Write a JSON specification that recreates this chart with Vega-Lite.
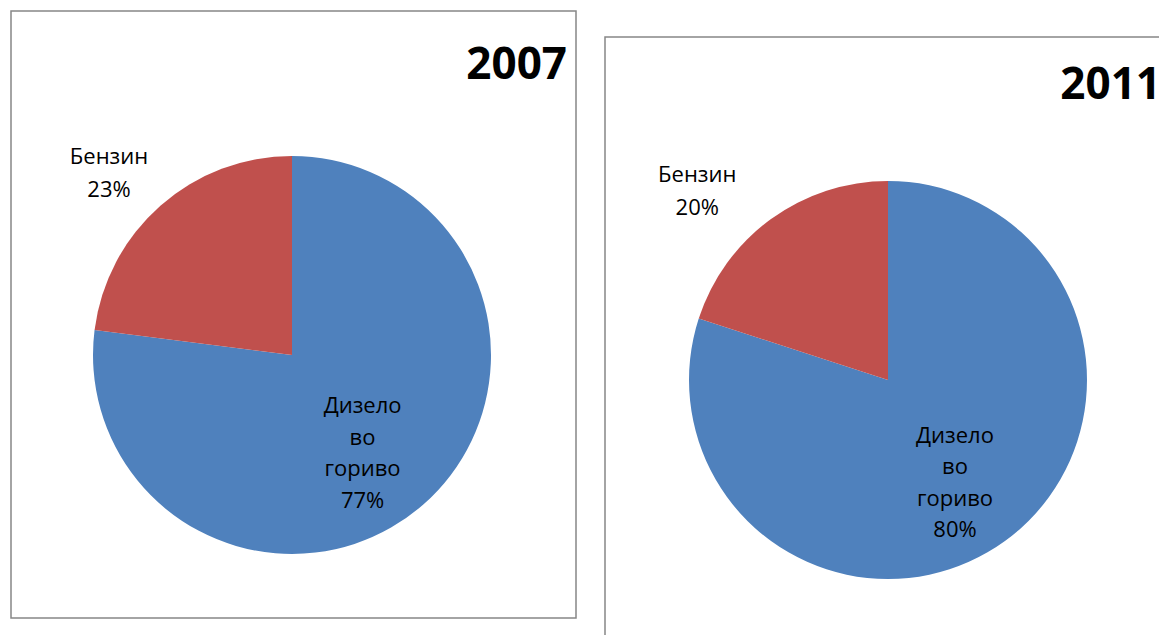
{
  "$schema": "https://vega.github.io/schema/vega-lite/v6.json",
  "padding": {"left": 10, "top": 10, "right": 0, "bottom": 0},
  "background": "white",
  "spacing": 27,
  "config": {
    "view": {"stroke": "#878787", "strokeWidth": 1.5},
    "text": {"font": "Open Sans", "color": "black"}
  },
  "datasets": {
    "fuel": [
      {"year": "2007", "fuel": "Дизелово гориво", "value": 77, "label": "Дизело\nво\nгориво\n77%"},
      {"year": "2007", "fuel": "Бензин", "value": 23, "label": "Бензин\n23%"},
      {"year": "2011", "fuel": "Дизелово гориво", "value": 80, "label": "Дизело\nво\nгориво\n80%"},
      {"year": "2011", "fuel": "Бензин", "value": 20, "label": "Бензин\n20%"}
    ]
  },
  "hconcat": [
    {
      "width": 565,
      "height": 607,
      "view": {"stroke": "#878787", "strokeWidth": 1.5},
      "data": {"name": "fuel"},
      "transform": [{"filter": "datum.year === '2007'"}],
      "title": {"text": "2007", "anchor": "end", "frame": "group", "offset": -77, "dx": -9, "fontSize": 44, "fontWeight": "bold", "font": "Open Sans", "color": "black"},
      "layer": [
        {
          "mark": {"type": "arc", "radius": 199, "xOffset": -1.5, "yOffset": 40.5},
          "encoding": {
            "theta": {"field": "value", "type": "quantitative", "stack": true},
            "order": {"field": "fuel", "sort": "descending"},
            "color": {"field": "fuel", "type": "nominal", "scale": {"domain": ["Дизелово гориво", "Бензин"], "range": ["#4F81BD", "#C0504D"]}, "legend": null}
          }
        },
        {
          "mark": {"type": "text", "radius": 120, "thetaOffset": 0.094, "xOffset": -1.5, "yOffset": 40.5, "dy": -46, "lineBreak": "\n", "fontSize": 22, "lineHeight": 31.5, "baseline": "middle", "align": "center"},
          "encoding": {
            "theta": {"field": "value", "type": "quantitative", "stack": true},
            "order": {"field": "fuel", "sort": "descending"},
            "text": {"field": "label"},
            "opacity": {"condition": {"test": "datum.fuel === 'Дизелово гориво'", "value": 1}, "value": 0}
          }
        },
        {
          "mark": {"type": "text", "radius": 258, "thetaOffset": -0.066, "xOffset": -1.5, "yOffset": 40.5, "dy": -16, "lineBreak": "\n", "fontSize": 22, "lineHeight": 33, "baseline": "middle", "align": "center"},
          "encoding": {
            "theta": {"field": "value", "type": "quantitative", "stack": true},
            "order": {"field": "fuel", "sort": "descending"},
            "text": {"field": "label"},
            "opacity": {"condition": {"test": "datum.fuel === 'Бензин'", "value": 1}, "value": 0}
          }
        }
      ]
    },
    {
      "spacing": 18,
      "vconcat": [
        {
          "width": 10,
          "height": 7,
          "data": {"values": []},
          "mark": "point",
          "view": {"stroke": null}
        },
        {
          "width": 555,
          "height": 599,
          "view": {"stroke": "#878787", "strokeWidth": 1.5},
          "data": {"name": "fuel"},
          "transform": [{"filter": "datum.year === '2011'"}],
          "title": {"text": "2011", "anchor": "end", "frame": "group", "offset": -71, "dx": 1, "fontSize": 44, "fontWeight": "bold", "font": "Open Sans", "color": "black"},
          "layer": [
            {
              "mark": {"type": "arc", "radius": 199, "xOffset": 5.5, "yOffset": 43.5},
              "encoding": {
                "theta": {"field": "value", "type": "quantitative", "stack": true},
                "order": {"field": "fuel", "sort": "descending"},
                "color": {"field": "fuel", "type": "nominal", "scale": {"domain": ["Дизелово гориво", "Бензин"], "range": ["#4F81BD", "#C0504D"]}, "legend": null}
              }
            },
            {
              "mark": {"type": "text", "radius": 122, "thetaOffset": 0.047, "xOffset": 5.5, "yOffset": 43.5, "dy": -46, "lineBreak": "\n", "fontSize": 22, "lineHeight": 31.5, "baseline": "middle", "align": "center"},
              "encoding": {
                "theta": {"field": "value", "type": "quantitative", "stack": true},
                "order": {"field": "fuel", "sort": "descending"},
                "text": {"field": "label"},
                "opacity": {"condition": {"test": "datum.fuel === 'Дизелово гориво'", "value": 1}, "value": 0}
              }
            },
            {
              "mark": {"type": "text", "radius": 269, "thetaOffset": -0.16, "xOffset": 5.5, "yOffset": 43.5, "dy": -15, "lineBreak": "\n", "fontSize": 22, "lineHeight": 33, "baseline": "middle", "align": "center"},
              "encoding": {
                "theta": {"field": "value", "type": "quantitative", "stack": true},
                "order": {"field": "fuel", "sort": "descending"},
                "text": {"field": "label"},
                "opacity": {"condition": {"test": "datum.fuel === 'Бензин'", "value": 1}, "value": 0}
              }
            }
          ]
        }
      ]
    }
  ]
}
